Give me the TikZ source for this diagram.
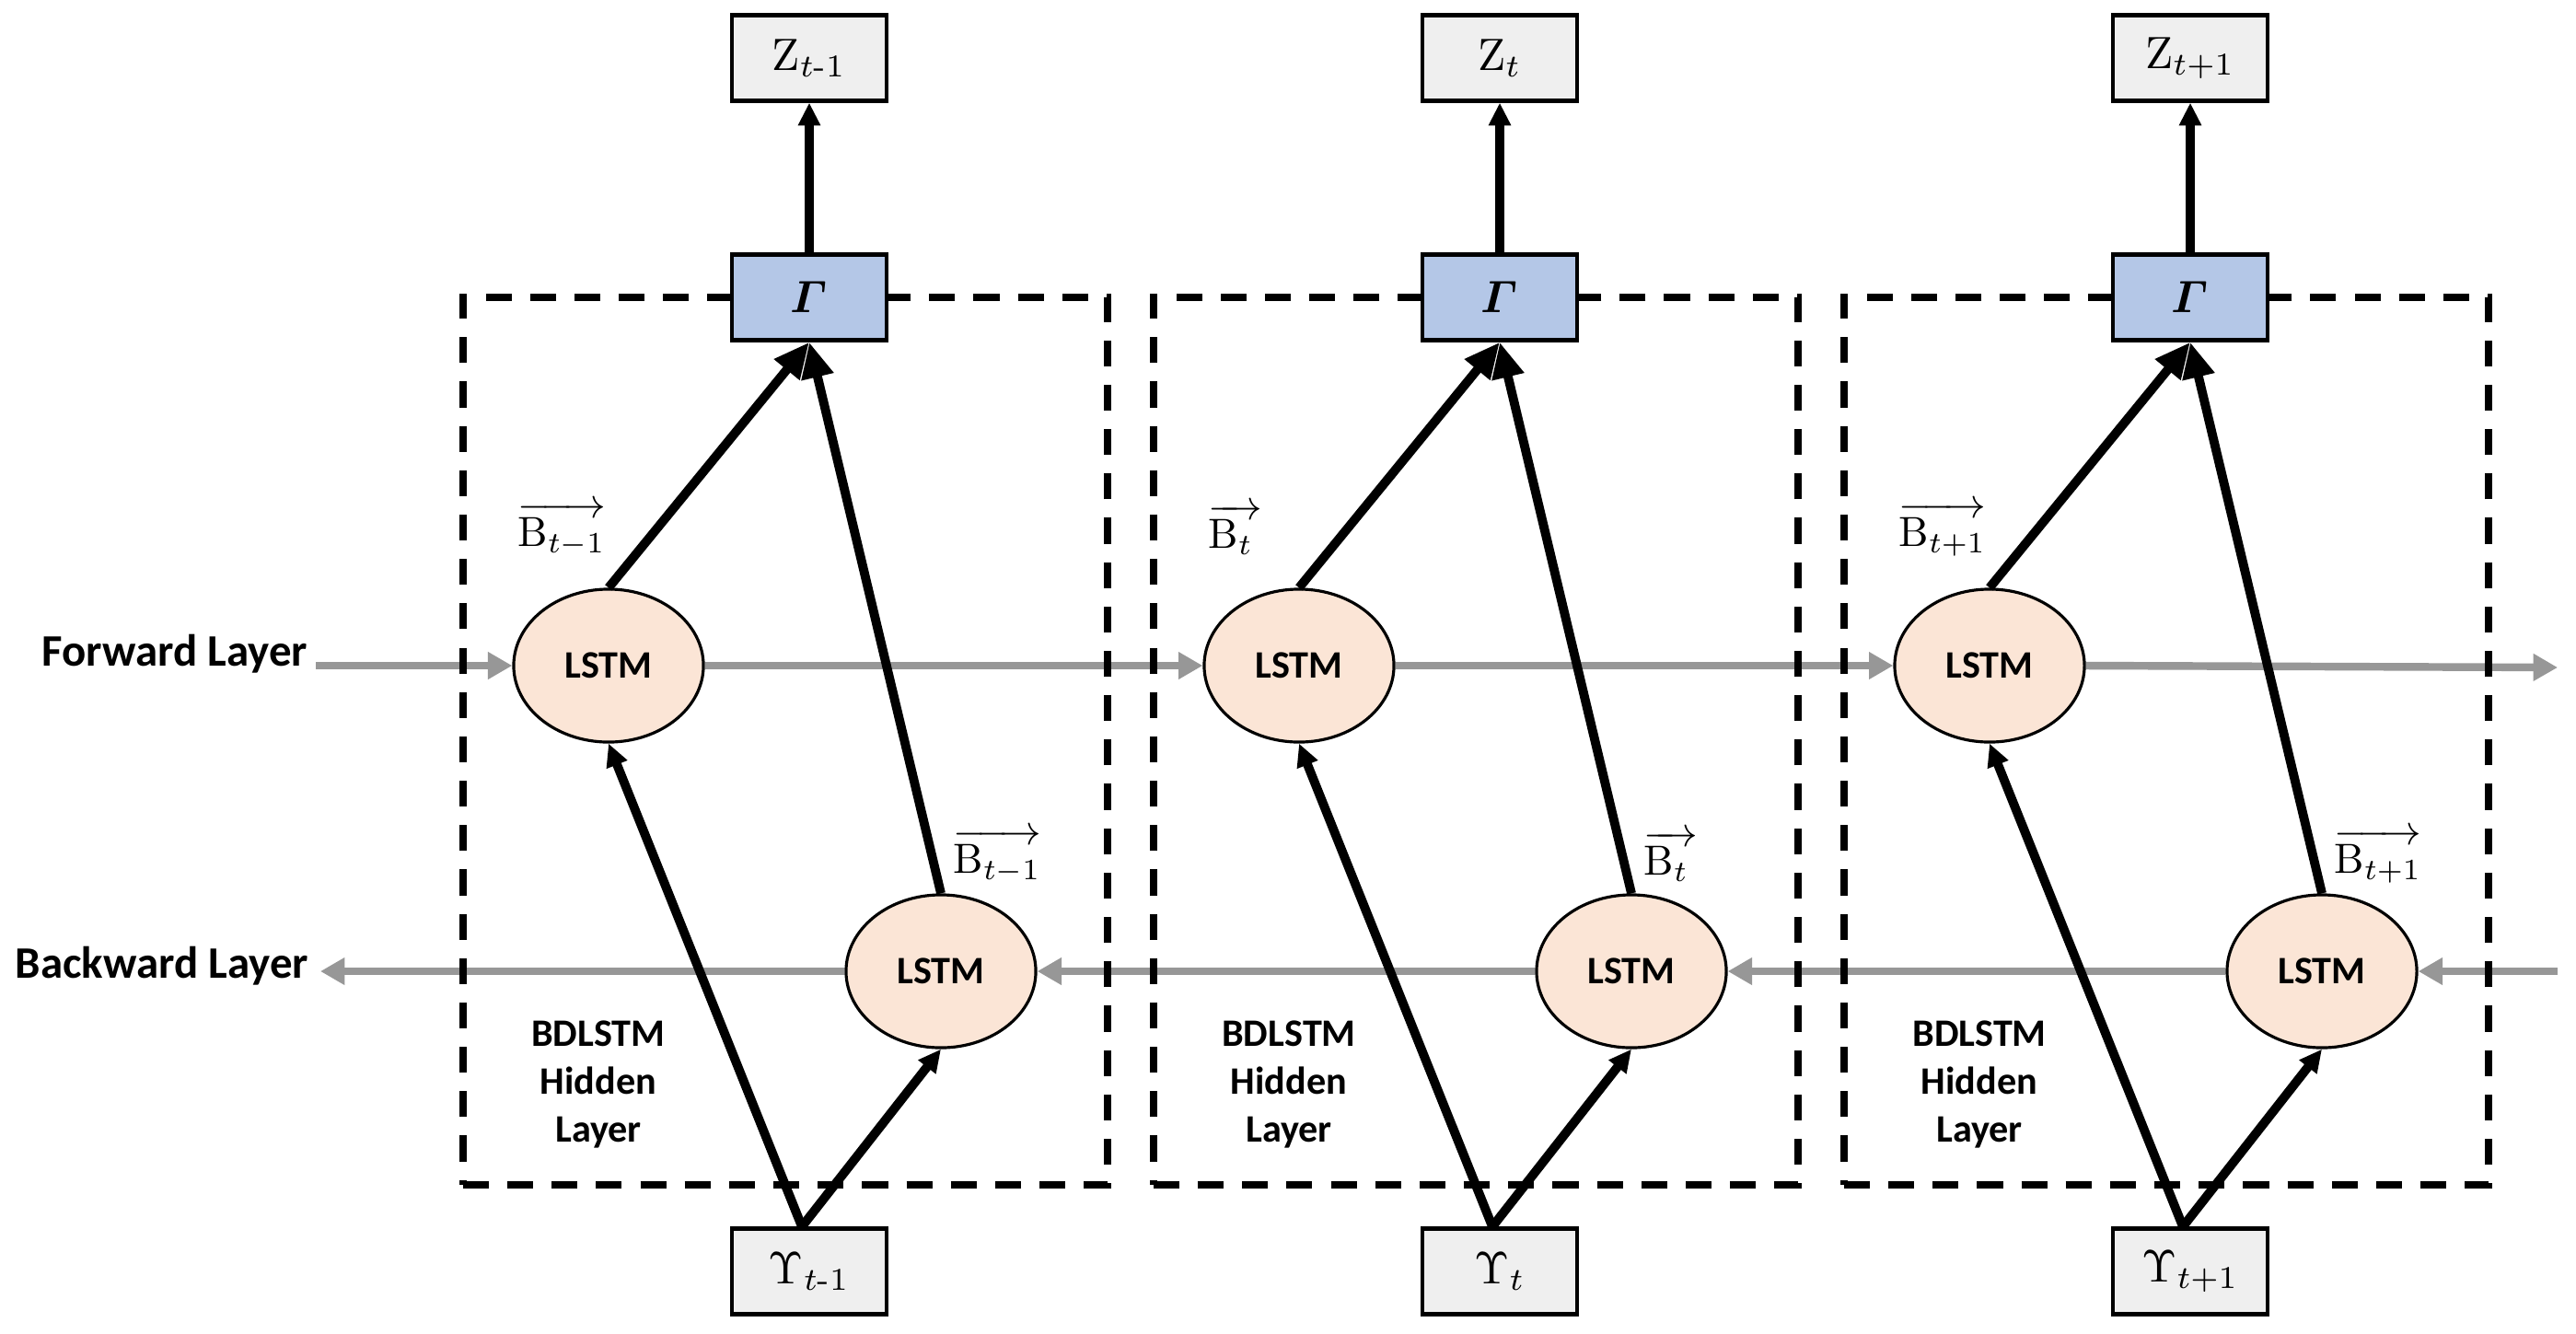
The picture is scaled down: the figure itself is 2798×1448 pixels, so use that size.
\documentclass[tikz,border=0pt]{standalone}
\usepackage{amsmath}
\usepackage{fontspec}
\newfontfamily\lblfont{Carlito}
\usetikzlibrary{shapes.geometric,arrows.meta}
\pgfdeclarelayer{back}
\pgfdeclarelayer{mid}
\pgfsetlayers{back,mid,main}
\definecolor{boxgray}{HTML}{EFEFEF}
\definecolor{gammablue}{HTML}{B4C7E7}
\definecolor{lstmfill}{HTML}{FBE5D6}
\definecolor{arrgray}{HTML}{979797}
\newcommand{\mysym}[1]{\scalebox{1.4}{#1}}
\newcommand{\mylab}[1]{\scalebox{1.3}{#1}}
\tikzset{
  iobox/.style={draw=black,line width=1.2pt,fill=boxgray,minimum width=1.68cm,minimum height=0.93cm,inner sep=0pt,font=\fontsize{10}{12}\selectfont},
  gbox/.style={iobox,fill=gammablue},
  lstm/.style={ellipse,draw=black,line width=0.9pt,fill=lstmfill,minimum width=2.06cm,minimum height=1.66cm,inner sep=0pt,font=\lblfont\bfseries\fontsize{12}{13}\selectfont},
  blabel/.style={inner sep=0pt,font=\fontsize{10}{12}\selectfont},
  hidtext/.style={align=center,inner sep=0pt,font=\lblfont\bfseries\fontsize{12}{14.8}\selectfont},
  layerlbl/.style={inner sep=0pt,font=\lblfont\bfseries\fontsize{13.9}{15}\selectfont},
  hiddenbox/.style={draw=black,line width=2.2pt,dash pattern=on 8pt off 5.7pt,minimum width=7.0cm,minimum height=9.64cm,inner sep=0pt},
  blkbig/.style={draw=black,line width=2.8pt,-{Triangle[length=11pt,width=9.5pt]}},
  blksmall/.style={draw=black,line width=2.8pt,-{Triangle[length=7pt,width=6.5pt]}},
  blktop/.style={draw=black,line width=2.6pt,-{Triangle[length=7pt,width=6.5pt]}},
  gry/.style={draw=arrgray,line width=2.4pt,-{Triangle[length=7.5pt,width=8pt]}}
}
\begin{document}
\begin{tikzpicture}[x=0.01cm,y=-0.01cm]
\useasboundingbox (0,0) rectangle (2798,1448);
\foreach \i/\c/\s/\b in {1/879/{t\text{-}1}/{t-1},2/1629/{t}/{t\;},3/2379/{t+1}/{t+1}} {
  \begin{pgfonlayer}{mid}
    \node[hiddenbox] (H\i) at ({\c-26},805) {};
  \end{pgfonlayer}
  \node[iobox] (Z\i) at (\c,63) {\mysym{$\mathrm{Z}_{\s}$}};
  \node[gbox] (G\i) at (\c,323) {\mysym{$\boldsymbol{\varGamma}$}};
  \node[iobox] (Y\i) at (\c,1381) {\mysym{$\Upsilon_{\s}$}};
  \node[lstm] (F\i) at ({\c-218},723) {LSTM};
  \node[lstm] (R\i) at ({\c+143},1055) {LSTM};
  \node[blabel,anchor=west] (fl\i) at ({\c-317},575) {\mylab{$\overrightarrow{\mathrm{B}_{\b}}$}};
  \node[blabel,anchor=west] (bl\i) at ({\c+156},930) {\mylab{$\overrightarrow{\mathrm{B}_{\b}}$}};
  \node[hidtext] (ht\i) at ({\c-229},1178) {BDLSTM\\Hidden\\Layer};
  \draw[blkbig] (F\i.north) -- (G\i.south);
  \draw[blkbig] (R\i.north) -- (G\i.south);
  \draw[blksmall] ([xshift=-0.08cm]Y\i.north) -- (F\i.south);
  \draw[blksmall] ([xshift=-0.08cm]Y\i.north) -- (R\i.south);
  \draw[blktop] (G\i.north) -- (Z\i.south);
}
\node[layerlbl,anchor=base] (fwd) at (190,723) {Forward Layer};
\node[layerlbl,anchor=base] (bwd) at (176,1062) {Backward Layer};
\coordinate (fstart) at (343,723);
\coordinate (fend) at (2778,725);
\coordinate (bstart) at (2778,1055);
\coordinate (bend) at (348,1055);
\begin{pgfonlayer}{back}
  \draw[gry] (fstart) -- (F1.west);
  \draw[gry] (F1.east) -- (F2.west);
  \draw[gry] (F2.east) -- (F3.west);
  \draw[gry] (F3.east) -- (fend);
  \draw[gry] (bstart) -- (R3.east);
  \draw[gry] (R3.west) -- (R2.east);
  \draw[gry] (R2.west) -- (R1.east);
  \draw[gry] (R1.west) -- (bend);
\end{pgfonlayer}
\end{tikzpicture}
\end{document}
